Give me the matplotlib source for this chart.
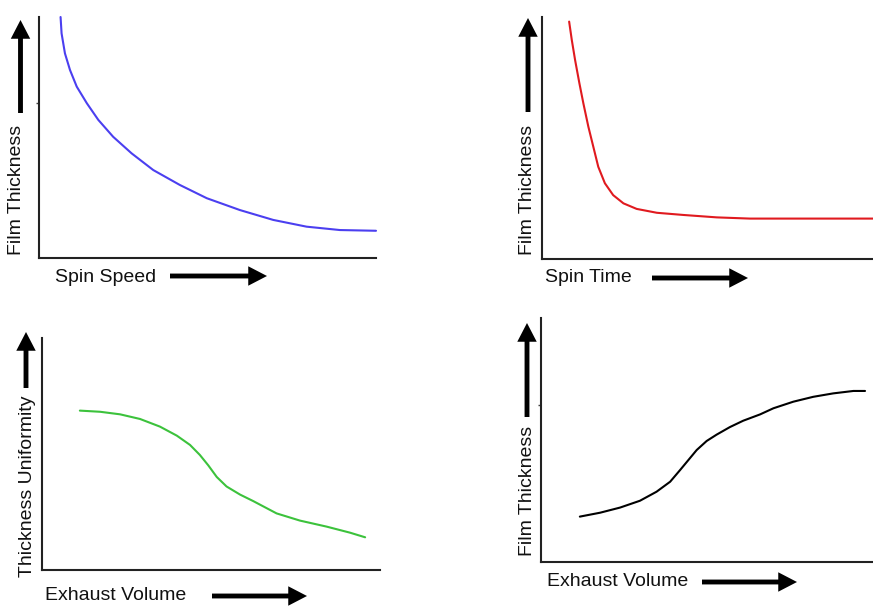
import matplotlib
matplotlib.use("Agg")
from matplotlib import pyplot as plt

plt.rcParams['font.family'] = ['Liberation Sans', 'DejaVu Sans']

W, H = 873, 607

# curves, both axes in arbitrary units 0..100
speed_x = [6.4, 6.7, 7.7, 9.2, 11.2, 14.2, 17.6, 22.0, 27.5, 33.9, 41.8, 49.8, 59.6, 69.5, 79.4, 89.3, 100.0]
speed_y = [100.0, 93.2, 84.9, 78.0, 71.1, 64.2, 57.3, 50.3, 43.4, 36.5, 30.3, 24.8, 19.9, 15.8, 13.0, 11.6, 11.3]

time_x = [8.2, 9.0, 10.0, 11.3, 12.5, 14.0, 15.5, 17.0, 19.0, 21.5, 24.6, 28.6, 34.7, 42.7, 52.8, 62.8, 100.0]
time_y = [98.1, 90.5, 82.2, 72.6, 64.3, 54.7, 46.4, 38.1, 31.3, 26.4, 23.0, 20.7, 19.1, 18.2, 17.2, 16.7, 16.7]

exh_x = [11.2, 17.2, 23.1, 29.0, 34.9, 39.9, 43.8, 46.7, 49.2, 51.7, 54.6, 58.6, 62.5, 69.4, 76.3, 84.2, 91.1, 95.6]
unif_y = [68.7, 68.2, 67.1, 65.1, 61.8, 57.9, 53.9, 49.6, 45.1, 40.1, 36.0, 32.5, 29.7, 24.4, 21.3, 18.7, 16.1, 14.1]

exh2_x = [11.7, 17.8, 23.8, 29.8, 34.8, 38.9, 41.9, 44.4, 46.9, 49.9, 52.9, 56.9, 60.9, 66.0, 70.0, 76.0, 82.0, 88.0, 94.1, 97.6]
thick_y = [18.6, 20.2, 22.3, 25.1, 28.8, 32.9, 37.7, 41.8, 45.9, 49.6, 52.2, 55.3, 57.9, 60.5, 63.0, 65.7, 67.7, 69.1, 70.1, 70.1]

panels = [
    dict(box=(39, 17, 376, 258), x=speed_x, y=speed_y, c='#4b3ff0',
         ylab='Film Thickness', xlab='Spin Speed', tick=True,
         ylab_pos=(17, 190), xlab_pos=(55, 277),
         yarr=(20.5, 113, 20), xarr=(276, 170, 267)),
    dict(box=(542, 17, 873, 259), x=time_x, y=time_y, c='#e01a1f',
         ylab='Film Thickness', xlab='Spin Time', tick=False,
         ylab_pos=(528, 190), xlab_pos=(545, 278),
         yarr=(528, 112, 18), xarr=(278, 652, 748)),
    dict(box=(42, 338, 380, 570), x=exh_x, y=unif_y, c='#3cc23c',
         ylab='Thickness Uniformity', xlab='Exhaust Volume', tick=False,
         ylab_pos=(28, 486), xlab_pos=(45, 596),
         yarr=(26, 388, 332), xarr=(596, 212, 307)),
    dict(box=(541, 318, 873, 562), x=exh2_x, y=thick_y, c='black',
         ylab='Film Thickness', xlab='Exhaust Volume', tick=True,
         ylab_pos=(527, 491), xlab_pos=(547, 582),
         yarr=(527, 417, 323), xarr=(582, 702, 797)),
]

fig = plt.figure(figsize=(W / 100, H / 100), dpi=100)


def fx(x):
    return x / W


def fy(y):
    return 1 - y / H


def arrow(x0, y0, x1, y1):
    # head ~18px long/wide, stem ~5px (sizes in points)
    fig.add_artist(plt.Annotation('', xy=(fx(x1), fy(y1)), xytext=(fx(x0), fy(y0)),
                                  xycoords='figure fraction', textcoords='figure fraction',
                                  arrowprops=dict(arrowstyle='simple,head_length=13.5,head_width=14,tail_width=3.5',
                                                  mutation_scale=1, lw=0, color='black',
                                                  shrinkA=0, shrinkB=0)))


for p in panels:
    l, t, r, b = p['box']
    ax = fig.add_axes([fx(l), fy(b), (r - l) / W, (b - t) / H])
    ax.plot(p['x'], p['y'], color=p['c'], lw=1.5, clip_on=False,
            solid_joinstyle='round', solid_capstyle='round')
    ax.set_xlim(0, 100)
    ax.set_ylim(0, 100)
    for s in ['top', 'right']:
        ax.spines[s].set_visible(False)
    for s in ['left', 'bottom']:
        ax.spines[s].set_linewidth(1.5)
        ax.spines[s].set_color('#222222')
    ax.set_xticks([])
    if p['tick']:
        ax.set_yticks([64.3])
        ax.set_yticklabels([])
        ax.tick_params(axis='y', length=2, width=1, color='#444444')
    else:
        ax.set_yticks([])

    fig.text(fx(p['ylab_pos'][0]), fy(p['ylab_pos'][1]), p['ylab'], rotation=90,
             ha='center', va='center', fontsize=14, color='#111111')
    fig.text(fx(p['xlab_pos'][0]), fy(p['xlab_pos'][1]), p['xlab'],
             ha='left', va='center', fontsize=14, color='#111111')

    ax_x, ya0, ya1 = p['yarr']
    arrow(ax_x, ya0, ax_x, ya1)
    ay, xa0, xa1 = p['xarr']
    arrow(xa0, ay, xa1, ay)

fig.savefig('out.png', dpi=100, facecolor='white')
